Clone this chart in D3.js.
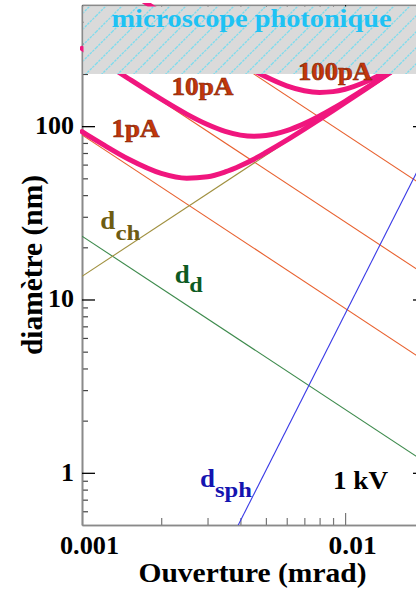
<!DOCTYPE html>
<html><head><meta charset="utf-8">
<script src="https://cdn.jsdelivr.net/npm/d3@7"></script>
<style>
html,body{margin:0;padding:0;background:#fff;overflow:hidden}
svg{display:block}
text{font-family:"Liberation Serif","Times New Roman",serif;font-weight:bold}
</style></head>
<body>
<svg id="chart" width="416" height="591"></svg>
<script>
// ---- data ----
const aperture   = [0.001, 0.0011, 0.0012, 0.0015, 0.002, 0.0025, 0.003, 0.0035, 0.004, 0.0045, 0.005, 0.006, 0.007, 0.008, 0.009, 0.010, 0.012, 0.015];
const total1pA   = [93.0, 84.9, 78.4, 64.6, 53.4, 50.1, 51.0, 54.4, 59.1, 64.5, 70.5, 83.0, 96.1, 109.5, 123.0, 136.6, 164.0, 206.0];
const total10pA  = [281.3, 255.9, 234.7, 188.4, 143.1, 117.4, 102.2, 93.3, 88.8, 87.4, 88.2, 94.1, 103.4, 114.4, 126.5, 139.1, 165.5, 206.7];
const total100pA = [900, 818.6, 750, 600.5, 451.0, 361.7, 302.9, 261.6, 231.6, 209.2, 192.5, 170.8, 160.0, 156.6, 158.2, 163.3, 180.2, 214.5];

const lineEnds  = [0.001, 0.0203];          // aperture at both ends of straight lines
const gauss1pA  = [89, 4.38];
const gauss10pA = [280, 13.8];
const gauss100pA= [900, 44.3];
const diffr     = [23.2, 1.143];
const chrom     = [13.6, 276];
const spher     = [0.00826, 69.1];

const photonLimit = [200, 500];              // nm, hatched region

const xMajorTicks = [0.001, 0.01];
const xMinorTicks = [0.002,0.003,0.004,0.005,0.006,0.007,0.008,0.009,0.02];
const yMajorTicks = [1, 10, 100];
const yMinorTicks = [0.6,0.7,0.8,0.9,2,3,4,5,6,7,8,9,20,30,40,50,60,70,80,90,200,300,400];

// ---- layout ----
const L = 82, R = 426, T = 5, B = 525;
const svg = d3.select("#chart");
const x = d3.scaleLog().domain([0.001, 0.0203]).range([L, R]);
const y = d3.scaleLog().domain([0.5, 500]).range([B, T]);

const defs = svg.append("defs");
defs.append("clipPath").attr("id","clipLines").append("rect")
  .attr("x", L).attr("y", T).attr("width", R-L).attr("height", B-T);
defs.append("clipPath").attr("id","clipCurves").append("rect")
  .attr("x", L-2).attr("y", T-2).attr("width", R-L+2).attr("height", B-T);
const pat = defs.append("pattern").attr("id","hatch").attr("patternUnits","userSpaceOnUse")
  .attr("width",16).attr("height",16);
pat.append("rect").attr("width",16).attr("height",16).attr("fill","#dadada");
pat.append("path").attr("d","M-4,4 L4,-4 M0,16 L16,0 M12,20 L20,12")
  .attr("stroke","#7cdcee").attr("stroke-width",1.3).attr("stroke-dasharray","2.5,1");

// ---- axes ----
const gx = svg.append("g").attr("transform",`translate(0,${B})`);
gx.call(d3.axisBottom(x).tickValues(xMinorTicks).tickFormat("").tickSizeInner(-7).tickSizeOuter(0));
const gx2 = svg.append("g").attr("transform",`translate(0,${B})`);
gx2.call(d3.axisBottom(x).tickValues(xMajorTicks).tickFormat(d3.format("")).tickSizeInner(-12).tickSizeOuter(0));
gx2.selectAll("text").attr("y", 29).attr("dy", null).attr("dx", 7)
  .attr("font-size", 26).attr("fill","#000")
  .attr("textLength", d => d === 0.001 ? 59 : 48).attr("lengthAdjust","spacingAndGlyphs");

const gxt = svg.append("g").attr("transform",`translate(0,${T})`);
gxt.call(d3.axisTop(x).tickValues(xMinorTicks).tickFormat("").tickSizeInner(-5).tickSizeOuter(0));
const gxt2 = svg.append("g").attr("transform",`translate(0,${T})`);
gxt2.call(d3.axisTop(x).tickValues(xMajorTicks).tickFormat("").tickSizeInner(-12).tickSizeOuter(0));

const gy = svg.append("g").attr("transform",`translate(${L},0)`);
gy.call(d3.axisLeft(y).tickValues(yMinorTicks).tickFormat("").tickSizeInner(-6).tickSizeOuter(0));
const gy2 = svg.append("g").attr("transform",`translate(${L},0)`);
gy2.call(d3.axisLeft(y).tickValues(yMajorTicks).tickFormat(d3.format("")).tickSizeInner(-13).tickSizeOuter(0));
gy2.selectAll("text").attr("x", -8).attr("dy", "0.28em")
  .attr("font-size", 26).attr("fill","#000");

const gyr = svg.append("g").attr("transform",`translate(${R},0)`);
gyr.call(d3.axisRight(y).tickValues(yMajorTicks).tickFormat("").tickSizeInner(-13).tickSizeOuter(0));

svg.selectAll(".domain").attr("stroke","#8a8a8a").attr("stroke-width",1.6);
gx.selectAll(".tick line").attr("stroke","#777").attr("stroke-width",1.2);
gx2.selectAll(".tick line").attr("stroke","#777").attr("stroke-width",1.2);
gxt.selectAll(".tick line").attr("stroke","#333");
gy.selectAll(".tick line").attr("stroke","#444").attr("stroke-width",1.2);
gy2.selectAll(".tick line").attr("stroke","#000").attr("stroke-width",1.3);
gyr.selectAll(".tick line").attr("stroke","#000").attr("stroke-width",1.3);

// ---- straight lines ----
const seg = d3.line().x(d => x(d[0])).y(d => y(d[1]));
const straight = [
  {v: gauss1pA,   c: "#e8602e"},
  {v: gauss10pA,  c: "#e8602e"},
  {v: gauss100pA, c: "#e8602e"},
  {v: diffr,      c: "#3d8a4c"},
  {v: chrom,      c: "#a0903f"},
  {v: spher,      c: "#3a3ae6"}
];
const gl = svg.append("g").attr("clip-path","url(#clipLines)");
straight.forEach(s => {
  gl.append("path").attr("d", seg(lineEnds.map((a,i)=>[a, s.v[i]])))
    .attr("fill","none").attr("stroke", s.c).attr("stroke-width", 1.1);
});

// ---- total probe-size curves ----
const curve = d3.line().x(d => x(d[0])).y(d => y(d[1])).curve(d3.curveMonotoneX);
const gc = svg.append("g").attr("clip-path","url(#clipCurves)");
[total1pA, total10pA, total100pA].forEach(arr => {
  gc.append("path").attr("d", curve(aperture.map((a,i)=>[a, arr[i]])))
    .attr("fill","none").attr("stroke","#f0167e").attr("stroke-width",5)
    .attr("stroke-linecap","round");
});

// ---- photonic microscope region ----
svg.append("rect")
  .attr("x", L+1.5).attr("y", y(photonLimit[1])+1.5)
  .attr("width", R-L).attr("height", y(photonLimit[0]) - y(photonLimit[1]) - 1.5)
  .attr("fill","url(#hatch)");
svg.append("text").attr("x",111.5).attr("y",26.5).attr("font-size",26)
  .attr("fill","#1ec2f4").attr("textLength",280).attr("lengthAdjust","spacingAndGlyphs")
  .text("microscope photonique");

// ---- annotations ----
function lab(txt, xx, yy, w, col, size){
  return svg.append("text").attr("x",xx).attr("y",yy).attr("font-size",size||26)
    .attr("fill",col).attr("textLength",w).attr("lengthAdjust","spacingAndGlyphs").text(txt);
}
const pa = "#c4360a";
lab("1pA", 111.5, 136.5, 48, pa).attr("stroke","#7a2206").attr("stroke-width",0.6);
lab("10pA", 171.5, 95, 62, pa).attr("stroke","#7a2206").attr("stroke-width",0.6);
lab("100pA", 298, 80, 74, pa).attr("stroke","#7a2206").attr("stroke-width",0.6);
lab("1 kV", 333, 489, 55, "#000");

lab("d", 100.3, 229.3, 15, "#6e5c12");
lab("ch", 115.5, 240, 25, "#6e5c12", 22);
lab("d", 174.7, 282.7, 15, "#0d5a22");
lab("d", 189.3, 291.7, 13.5, "#0d5a22", 22);
lab("d", 200, 486.7, 15, "#1414b0");
lab("sph", 215, 496.7, 37, "#1414b0", 22);

// ---- axis titles ----
svg.append("text").attr("x",138.5).attr("y",582).attr("font-size",28).attr("fill","#000")
  .attr("textLength",228).attr("lengthAdjust","spacingAndGlyphs").text("Ouverture (mrad)");
svg.append("text").attr("transform","translate(42,355) rotate(-90)").attr("font-size",29)
  .attr("fill","#000").attr("textLength",180).attr("lengthAdjust","spacingAndGlyphs")
  .text("diamètre (nm)");
</script>
</body></html>
